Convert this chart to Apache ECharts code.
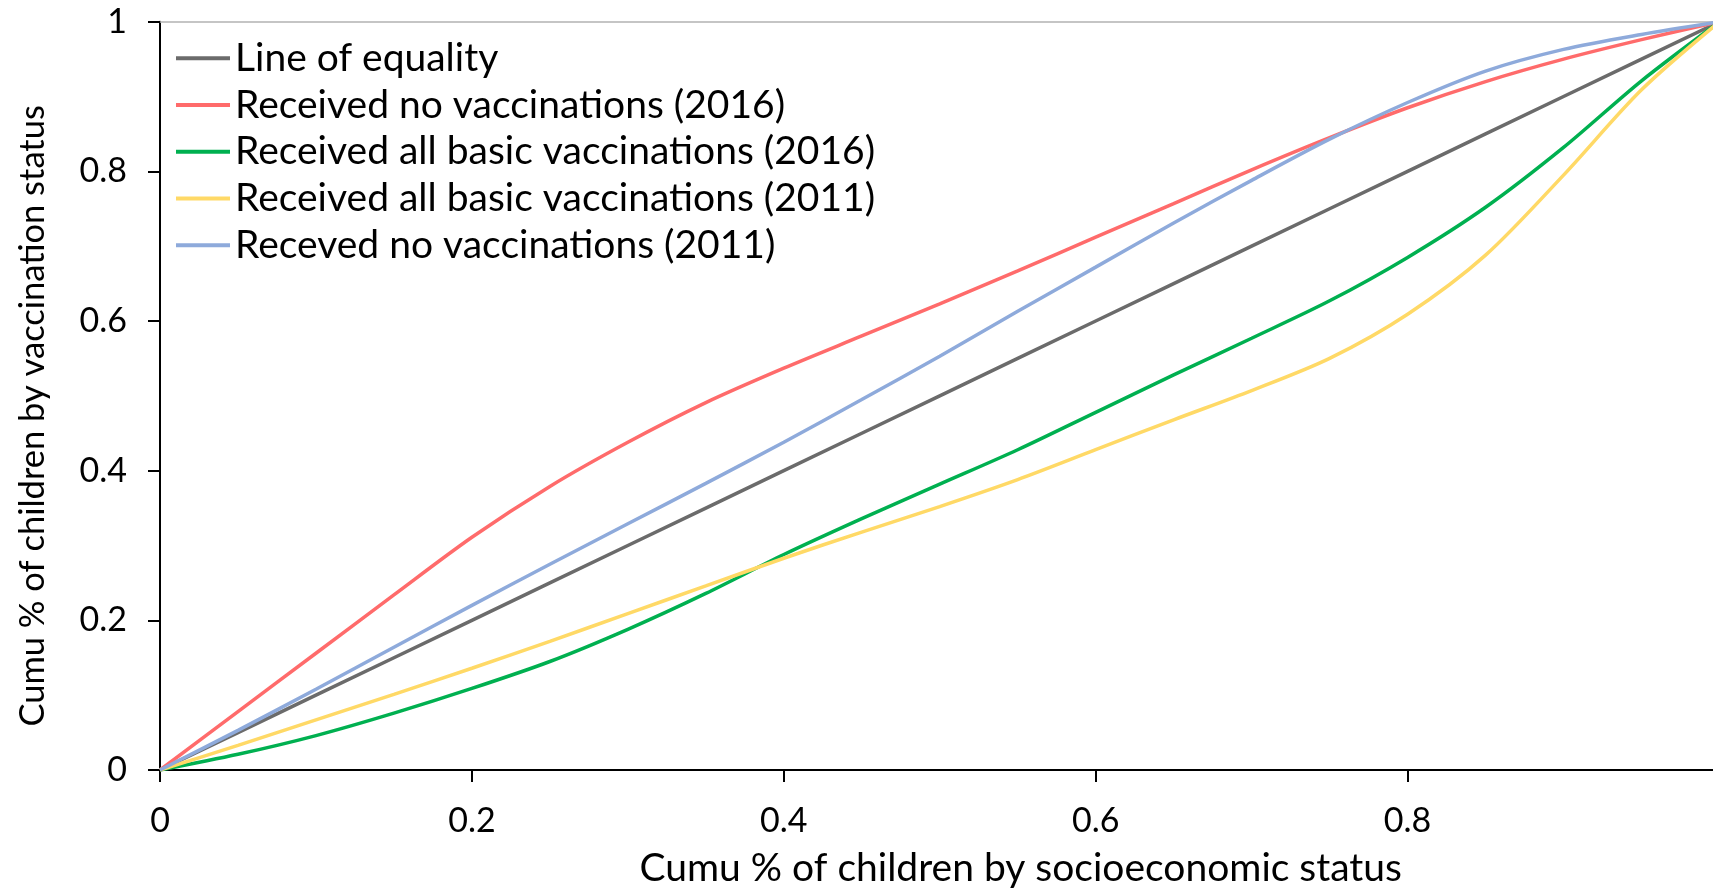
<!DOCTYPE html>
<html>
<head>
<meta charset="utf-8">
<script src="https://cdn.jsdelivr.net/npm/echarts@6/dist/echarts.min.js"></script>
<style>
html,body{margin:0;padding:0;background:#fff;}
#chart{width:1713px;height:889px;}
</style>
</head>
<body>
<div id="chart"></div>
<script>
const xs = [0,0.05,0.1,0.15,0.2,0.25,0.3,0.35,0.4,0.45,0.5,0.55,0.6,0.65,0.7,0.75,0.8,0.85,0.9,0.95,1];
const equality   = [0,0.05,0.1,0.15,0.2,0.25,0.3,0.35,0.4,0.45,0.5,0.55,0.6,0.65,0.7,0.75,0.8,0.85,0.9,0.95,1];
const noVacc2016 = [0,0.078,0.156,0.234,0.311,0.379,0.438,0.491,0.537,0.580,0.623,0.667,0.712,0.757,0.802,0.845,0.885,0.920,0.950,0.976,1];
const allVacc2016= [0,0.021,0.046,0.076,0.109,0.145,0.188,0.236,0.288,0.336,0.382,0.428,0.478,0.528,0.577,0.627,0.685,0.752,0.832,0.921,1];
const allVacc2011= [0,0.033,0.067,0.101,0.136,0.172,0.209,0.246,0.283,0.318,0.352,0.388,0.428,0.468,0.507,0.550,0.609,0.688,0.795,0.909,1];
const noVacc2011 = [0,0.053,0.108,0.164,0.220,0.275,0.329,0.383,0.438,0.495,0.553,0.613,0.672,0.731,0.788,0.843,0.892,0.934,0.963,0.983,1];
const seriesNames = ['Line of equality','Received no vaccinations (2016)','Received all basic vaccinations (2016)','Received all basic vaccinations (2011)','Receved no vaccinations (2011)'];
const seriesColors = ['#6b6b6b','#ff6b6b','#00b050','#ffd966','#8eaadb'];
const xTickLabels = ['0','0.2','0.4','0.6','0.8'];
const yTickLabels = ['0','0.2','0.4','0.6','0.8','1'];
const xTitle = 'Cumu % of children by socioeconomic status';
const yTitle = 'Cumu % of children by vaccination status';

const FONT = 'Lato';
const allSeries = [equality, noVacc2016, allVacc2016, allVacc2011, noVacc2011];

const chart = echarts.init(document.getElementById('chart'), null, {renderer:'canvas'});
const option = {
  animation: false,
  backgroundColor: '#fff',
  textStyle: {fontFamily: FONT},
  grid: {left: 160, top: 21.7, width: 1559.5, height: 748.3, containLabel: false, outerBoundsMode: 'none'},
  legend: {
    orient: 'vertical', left: 171, top: 30,
    itemWidth: 54, itemHeight: 4, itemGap: 0,
    icon: 'rect',
    textStyle: {fontFamily: FONT, fontSize: 39, color: '#000', lineHeight: 46.7},
    data: seriesNames
  },
  xAxis: [{
    type: 'value', min: 0, max: 1, interval: 0.2,
    name: xTitle, nameLocation: 'middle', nameGap: 78.5,
    nameTextStyle: {fontFamily: FONT, fontSize: 39, color: '#000', padding: [0,0,0,162]},
    axisLine: {show: true, lineStyle: {color: '#000', width: 2}},
    axisTick: {show: true, length: 12, lineStyle: {color: '#000', width: 2}},
    axisLabel: {fontFamily: FONT, fontSize: 34, color: '#000', margin: 34,
      formatter: v => { const i = Math.round(v/0.2); return i < xTickLabels.length ? xTickLabels[i] : ''; }},
    splitLine: {show: false}
  },{
    type: 'value', min: 0, max: 1, position: 'top',
    axisLine: {show: true, lineStyle: {color: '#b3b3b3', width: 1.5}},
    axisTick: {show: false}, axisLabel: {show: false}, splitLine: {show: false}
  }],
  yAxis: {
    type: 'value', min: 0, max: 1, interval: 0.2,
    name: yTitle, nameLocation: 'middle', nameGap: 110,
    nameTextStyle: {fontFamily: FONT, fontSize: 34.5, color: '#000', padding: [0,40,0,0]},
    axisLine: {show: true, lineStyle: {color: '#000', width: 2}},
    axisTick: {show: true, length: 12, lineStyle: {color: '#000', width: 2}},
    axisLabel: {fontFamily: FONT, fontSize: 34, color: '#000', margin: 33,
      formatter: v => yTickLabels[Math.round(v/0.2)]},
    splitLine: {show: false}
  },
  series: allSeries.map((vals, i) => ({
    name: seriesNames[i],
    type: 'line',
    xAxisIndex: 0,
    data: xs.map((x, j) => [x, vals[j]]),
    smooth: i === 0 ? false : 0.3,
    showSymbol: false,
    symbol: 'none',
    color: seriesColors[i],
    lineStyle: {color: seriesColors[i], width: 3.5},
    z: i === 0 ? 2 : 3 + i
  }))
};
chart.setOption(option);
</script>
</body>
</html>
